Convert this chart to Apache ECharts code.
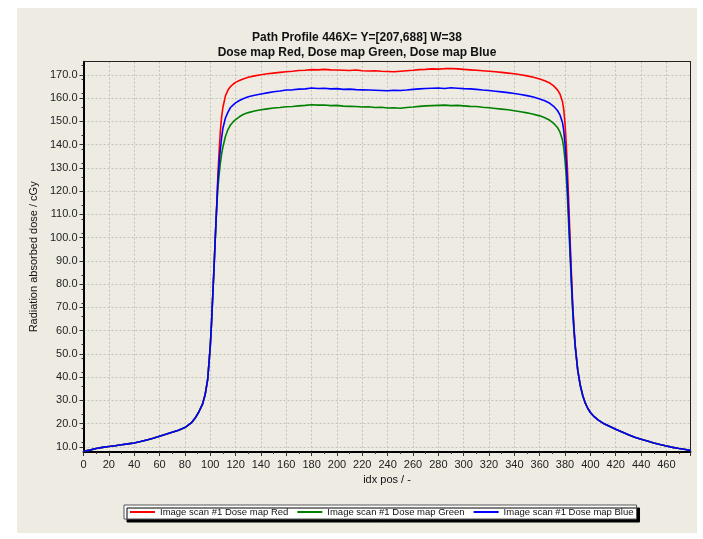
<!DOCTYPE html>
<html>
<head>
<meta charset="utf-8">
<script src="https://cdn.jsdelivr.net/npm/echarts@6/dist/echarts.min.js"></script>
<style>
  html, body { margin: 0; padding: 0; background: #ffffff; }
  #main { position: absolute; left: 17px; top: 8px; width: 680px; height: 525px; }
</style>
</head>
<body>
<div id="main"></div>
<script>
// profile positions (idx pos) and dose values
var idx = [0,5,10,15,20,25,30,35,40,45,50,55,60,65,70,75,80,85,88,91,94,96,98,100,101,102,103,104,105,106,107,108,109,110,112,114,116,118,120,123,126,130,135,140,145,150,155,160,165,170,175,180,185,190,195,200,205,210,215,220,225,230,235,240,245,250,255,260,265,270,275,280,285,290,295,300,305,310,315,320,325,330,335,340,345,350,355,360,364,368,371,374,376,378,379,380,381,382,383,384,385,386,387,388,390,392,394,396,398,400,403,406,410,415,420,425,430,435,440,445,450,455,460,465,470,475,479];

var toeLeft = [8.1,8.6,9.3,9.8,10.2,10.5,10.9,11.3,11.7,12.3,13.0,13.7,14.6,15.4,16.3,17.2,18.3,20.3,22.3,25.0,28.5,32.5,39.0,53.0,63.0,75.0,87.0,100.0,112.0];
var toeRight = [43.0,36.5,32.0,28.8,26.5,24.8,23.0,21.6,20.2,18.9,17.6,16.4,15.2,14.1,13.3,12.5,11.7,11.0,10.4,9.8,9.3,8.9,8.5];

var redTop = [126,137,146,152,156,161,163.5,165,166,166.8,167.6,168.3,169,169.6,170.1,170.5,170.8,171.1,171.4,171.6,171.9,172.0,172.3,172.2,172.4,172.2,172.1,172.0,171.9,172.1,171.8,171.7,171.8,171.6,171.5,171.4,171.6,171.8,172.0,172.3,172.4,172.6,172.5,172.7,172.8,172.6,172.4,172.2,172.0,171.8,171.6,171.4,171.1,170.8,170.5,170.1,169.6,169.0,168.3,167.5,166.5,165.3,163.6,161.8,158.5,155,149,140,128,114,99,85,72,62,54];
var greenTop = [121,127,132,136,139,143.5,146.5,148.5,149.8,150.8,152,153,153.8,154.5,155,155.4,155.8,156,156.3,156.4,156.7,156.9,157.2,157.0,157.1,156.8,156.9,156.6,156.5,156.4,156.2,156.3,156.0,156.1,155.8,155.9,155.7,156.0,156.2,156.5,156.7,156.8,156.9,157.0,156.8,156.9,156.7,156.5,156.4,156.1,155.9,155.6,155.3,155.0,154.6,154.2,153.7,153.1,152.4,151.6,150.5,149.2,147.4,145.4,142,138.5,133,126,116,104,92,80,69,60,53];
var blueTop = [124,132,138,143,147,151.5,154,156,157,158,159,159.8,160.6,161.3,161.8,162.3,162.8,163.1,163.5,163.6,163.9,164.0,164.4,164.2,164.3,164.0,164.1,163.8,163.9,163.7,163.6,163.5,163.4,163.3,163.2,163.4,163.3,163.5,163.8,164.0,164.2,164.3,164.4,164.2,164.5,164.3,164.1,164.0,163.8,163.5,163.3,163.0,162.7,162.4,162.0,161.6,161.1,160.5,159.7,158.9,157.8,156.5,154.7,152.8,149.5,146,140,132,121,108,95,82,70,61,53.5];

var red = toeLeft.concat(redTop, toeRight);
var green = toeLeft.concat(greenTop, toeRight);
var blue = toeLeft.concat(blueTop, toeRight);

var yTicks = [10,20,30,40,50,60,70,80,90,100,110,120,130,140,150,160,170];

function pairs(vals) {
  return idx.map(function (x, i) { return [x, vals[i]]; });
}

var myChart = echarts.init(document.getElementById('main'));
var font = 'Liberation Sans, Arial, sans-serif';
var gridLine = { lineStyle: { color: '#c4c2bc', type: [2, 2] } };
var option = {
  backgroundColor: '#eeebe3',
  animation: false,
  textStyle: { fontFamily: font },
  title: {
    text: 'Path Profile 446X= Y=[207,688] W=38\nDose map Red, Dose map Green, Dose map Blue',
    left: 'center',
    top: 17,
    textStyle: { fontSize: 12, fontWeight: 'bold', color: '#111', lineHeight: 15, fontFamily: font }
  },
  legend: {
    left: 107,
    top: 497,
    width: 600,
    padding: [2, 3, 2, 6],
    itemGap: 9,
    itemWidth: 25,
    itemHeight: 2,
    icon: 'rect',
    backgroundColor: '#ffffff',
    borderColor: '#555',
    borderWidth: 1,
    borderRadius: 0,
    shadowColor: '#000',
    shadowOffsetX: 3,
    shadowOffsetY: 3,
    textStyle: { fontSize: 9.5, color: '#111', fontFamily: font },
    data: ['Image scan #1 Dose map Red', 'Image scan #1 Dose map Green', 'Image scan #1 Dose map Blue']
  },
  grid: {
    left: 66.5, top: 53.7, width: 607, height: 390.3,
    show: false
  },
  xAxis: [{
    type: 'value',
    min: 0, max: 479, interval: 20,
    name: 'idx pos / -',
    nameLocation: 'middle',
    nameGap: 22,
    nameTextStyle: { fontSize: 11, color: '#111' },
    axisLine: { lineStyle: { color: '#000', width: 2 } },
    axisTick: { length: 4, lineStyle: { color: '#333' } },
    minorTick: { show: true, splitNumber: 2, length: 2, lineStyle: { color: '#333' } },
    axisLabel: { fontSize: 11, color: '#222', margin: 7, showMaxLabel: false },
    splitLine: gridLine
  }, {
    type: 'value', position: 'top',
    min: 0, max: 479,
    axisLine: { show: true, onZero: false, lineStyle: { color: '#222', width: 1 } },
    axisTick: { show: false }, axisLabel: { show: false }, splitLine: { show: false }
  }],
  yAxis: [{
    type: 'value',
    min: 7.8, max: 175.7,
    name: 'Radiation absorbed dose / cGy',
    nameLocation: 'middle',
    nameGap: 37,
    nameTextStyle: { fontSize: 11, color: '#111' },
    axisLine: { lineStyle: { color: '#000', width: 2 } },
    axisTick: { customValues: yTicks, length: 4, lineStyle: { color: '#333' } },
    minorTick: { show: true, splitNumber: 5, length: 2, lineStyle: { color: '#333' } },
    axisLabel: {
      customValues: yTicks, fontSize: 11, color: '#222', margin: 6,
      formatter: function (v) { return v.toFixed(1); }
    },
    splitLine: gridLine
  }, {
    type: 'value', position: 'right',
    min: 7.8, max: 175.7,
    axisLine: { show: true, onZero: false, lineStyle: { color: '#222', width: 1 } },
    axisTick: { show: false }, axisLabel: { show: false }, splitLine: { show: false }
  }],
  series: [
    { name: 'Image scan #1 Dose map Red', type: 'line', symbol: 'none', data: pairs(red),
      lineStyle: { color: '#ff0000', width: 1.6 }, itemStyle: { color: '#ff0000' } },
    { name: 'Image scan #1 Dose map Green', type: 'line', symbol: 'none', data: pairs(green),
      lineStyle: { color: '#008000', width: 1.6 }, itemStyle: { color: '#008000' } },
    { name: 'Image scan #1 Dose map Blue', type: 'line', symbol: 'none', data: pairs(blue),
      lineStyle: { color: '#0000ff', width: 1.6 }, itemStyle: { color: '#0000ff' } }
  ]
};
myChart.setOption(option);
</script>
</body>
</html>
